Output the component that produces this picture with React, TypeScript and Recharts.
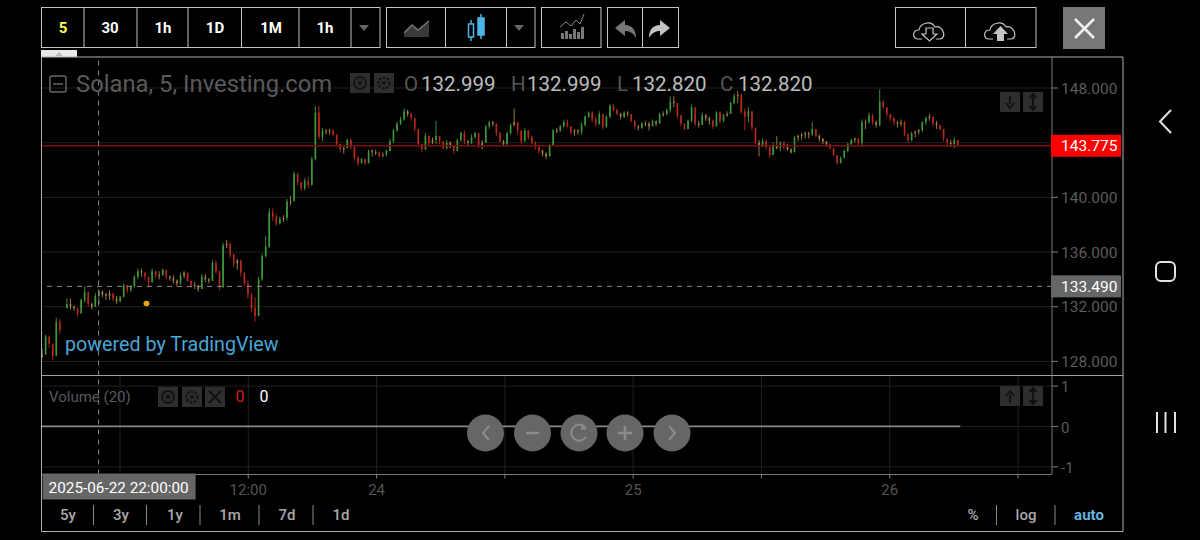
import React from "react";
import { Bar, CartesianGrid, ComposedChart, Line, ReferenceLine, XAxis, YAxis } from "recharts";

const highsA = [128.95,129.95,129.9,129.2,131.2,131.1,null,132.6,132.6,132.1,131.6,132.6,133.5,132.7,132.3,133.0,133.3,133.2,133.0,133.2,132.9,132.8,132.8,133.7,133.6,133.6,134.3,134.8,134.8,134.5,134.2,134.8,134.6,134.6,134.8,134.7,134.3,134.3,134.0,134.5,134.6,134.5,133.9,133.8,133.6,134.4,134.4,134.1,135.4,135.4,134.6,136.7,136.9,136.7,135.9,135.5,135.4,134.5,133.9,133.0,132.7,134.2,135.9,137.2,139.2,139.2,138.8,138.6,138.7,139.9,140.1,141.9,141.8,141.1,141.4,141.5,143.0,146.7,146.7];
const lowsA = [128.3,128.6,129.0,128.1,128.6,130.0,null,131.9,131.8,131.7,131.3,131.9,132.3,132.0,131.8,132.0,132.2,132.7,132.5,132.5,132.4,132.2,132.3,132.8,133.0,133.1,133.4,134.0,134.2,133.9,133.4,133.8,134.1,134.0,134.3,134.0,133.9,133.7,133.5,133.6,134.1,133.8,133.4,133.3,133.1,133.3,133.8,133.7,133.9,134.4,133.2,133.9,136.3,135.6,134.9,134.7,134.2,133.5,132.6,131.6,130.9,131.4,133.9,135.6,136.3,138.3,137.9,138.0,138.2,138.3,139.4,139.8,140.9,140.5,140.5,140.7,140.9,142.7,144.2];
const closesA = [128.5,129.8,129.3,128.4,130.9,130.3,null,132.2,132.0,131.9,131.5,132.5,133.1,132.2,132.0,132.8,133.1,132.9,132.8,133.0,132.6,132.4,132.7,133.6,133.2,133.5,134.2,134.6,134.5,134.2,133.8,134.6,134.3,134.3,134.7,134.2,134.1,133.9,133.7,134.3,134.5,133.9,133.6,133.5,133.3,134.2,134.0,133.9,135.2,134.6,133.4,136.5,136.6,135.8,135.2,135.4,134.5,133.7,132.9,131.9,131.3,134.0,135.7,136.4,138.9,138.6,138.1,138.4,138.5,139.7,139.7,141.7,141.1,140.7,141.2,140.9,142.8,146.2,144.4];

const highsB = [145.1,145.0,145.0,144.95,144.6,143.9,143.7,144.3,144.3,143.7,143.0,142.9,142.8,143.5,143.5,143.5,143.4,143.3,143.5,144.3,145.0,145.5,145.9,146.5,146.4,146.2,145.8,145.0,143.9,144.7,144.5,144.4,145.6,144.5,144.1,144.2,144.1,143.8,144.3,144.8,144.9,144.2,144.6,144.8,144.7,144.2,145.3,145.6,145.6,145.4,144.8,144.2,144.8,145.4,146.5,145.5,144.9,145.1,144.9,144.5,144.1,143.8,143.5,143.3,143.9,145.0,145.1,145.3,145.7,145.7,145.2,145.0,145.0,145.5,146.0,146.3,146.3,145.9,146.3,146.1,146.0,146.8,146.8,146.5,146.2,146.3,146.3,146.1,145.6,145.3,145.5,145.6,145.5];
const lowsB = [144.1,144.6,144.6,144.5,143.7,143.3,143.2,143.6,143.5,142.7,142.3,142.5,142.35,142.5,143.0,143.1,142.9,143.0,143.0,143.4,144.0,144.8,145.3,145.6,145.9,145.6,144.8,143.7,143.3,143.5,143.8,143.9,143.9,143.9,143.5,143.5,143.6,143.2,143.4,144.1,143.9,143.8,143.9,144.3,143.6,143.5,144.0,145.0,145.2,144.5,144.0,143.7,143.8,144.6,145.2,144.6,143.9,144.1,144.2,143.9,143.5,143.2,143.0,142.8,143.0,143.8,144.7,144.8,145.1,145.1,144.6,144.5,144.6,144.6,145.2,145.8,145.5,145.2,145.3,145.0,145.1,145.8,146.3,146.0,145.7,145.8,145.9,145.5,145.0,144.9,145.0,145.2,144.9];
const closesB = [144.9,144.85,144.9,144.6,143.9,143.5,143.6,144.2,143.7,142.9,142.5,142.8,142.5,143.4,143.3,143.3,143.0,143.1,143.4,144.1,144.9,145.4,145.7,146.3,146.1,145.8,145.0,143.9,143.5,144.5,144.0,144.2,144.5,144.1,143.6,144.0,143.8,143.4,144.2,144.7,144.1,144.0,144.4,144.7,143.8,144.0,145.2,145.5,145.4,144.7,144.1,143.9,144.7,145.3,145.5,144.9,144.1,144.9,144.4,144.0,143.7,143.4,143.2,143.0,143.8,144.9,144.9,145.2,145.5,145.2,144.8,144.9,144.8,145.3,145.9,146.2,145.7,145.4,146.1,145.2,145.9,146.7,146.4,146.1,145.9,146.2,146.1,145.6,145.2,145.1,145.4,145.4,145.2];

const highsC = [145.7,145.6,146.2,146.3,146.5,147.4,147.4,146.9,146.0,145.4,145.7,146.8,146.0,145.6,146.2,146.1,145.9,145.7,146.3,146.3,146.1,146.3,147.0,147.6,147.8,147.6,146.5,146.6,146.3,145.1,144.2,144.3,144.2,143.7,144.0,144.5,144.1,144.1,143.9,143.6,144.5,144.6,144.7,144.8,144.8,145.5,145.0,144.6,144.3,144.1,143.9,143.6,143.1,143.0,143.5,144.0,144.3,144.4,144.3,145.7,145.7,146.2,146.1,145.6,147.9,147.1,146.6,146.1,145.9,145.6,145.7,145.6,144.7,144.8,144.9,145.0,145.6,145.9,146.1,145.9,145.6,145.3,145.0,144.3,144.2,144.4,144.2];
const lowsC = [145.2,145.2,145.4,145.9,146.0,146.2,146.6,145.8,145.2,144.9,145.0,145.5,145.2,145.1,145.3,145.6,145.3,145.0,145.2,145.4,145.5,145.9,146.1,146.8,146.9,146.1,144.9,145.5,144.9,143.9,143.0,143.7,143.5,142.9,143.1,143.5,143.4,143.5,143.4,143.2,143.3,144.1,144.2,144.3,144.3,144.5,144.4,144.1,143.9,143.7,143.5,143.0,142.4,142.5,142.9,143.3,143.8,144.0,143.8,143.7,145.0,145.4,145.3,145.1,145.2,146.5,145.9,145.6,145.3,145.1,145.2,144.5,144.0,144.1,144.4,144.6,144.8,145.3,145.6,145.2,145.0,144.9,144.1,143.8,143.7,143.6,143.7];
const closesC = [145.6,145.4,146.1,146.1,146.4,147.0,146.9,146.0,145.4,145.0,145.6,146.6,145.4,145.3,146.0,145.8,145.6,145.2,146.2,145.6,146.0,146.1,146.9,147.4,147.5,146.3,145.9,146.3,145.1,144.0,143.8,144.1,143.7,143.1,143.8,143.6,144.0,143.7,143.5,143.3,144.4,144.5,144.6,144.7,144.6,145.0,144.5,144.3,144.1,143.9,143.6,143.1,142.5,142.9,143.4,143.9,144.2,144.3,144.0,145.5,145.5,146.0,145.5,145.3,147.0,146.6,146.1,145.8,145.5,145.4,145.5,144.6,144.2,144.7,144.8,144.9,145.5,145.8,145.9,145.4,145.3,145.0,144.3,144.0,143.9,144.2,143.8];

const candleHighs = [...highsA, ...highsB, ...highsC];
const candleLows = [...lowsA, ...lowsB, ...lowsC];
const candleCloses = [...closesA, ...closesB, ...closesC];

const firstCandleHour = -7.31;
const candleStepHours = 0.332;
const hourDomain = [-7.39, 87.18];
const gridHours = [0, 12, 24, 36, 48, 60, 72, 84];
const timeTicks = [-2, 12, 24, 36, 48, 60, 72, 84];
const timeLabels: Record<number, string> = { [-2]: "2025-06-22 22:00:00", 12: "12:00", 24: "24", 48: "25", 72: "26" };
const priceGrid = [128, 132, 136, 140, 144, 148];
const priceTicks = [128, 132, 133.49, 136, 140, 143.775, 148];
const lastPrice = 143.775;
const crossPrice = 133.49;
const crossHour = -2;
const volumeTicks = [-1, 0, 1];
const volumeHours = [-7.39, 78.6];
const volumeValues = [0, 0];

const candles = candleCloses.map((close, i) => ({
  hour: firstCandleHour + i * candleStepHours,
  range: close == null ? null : [candleLows[i], candleHighs[i]],
  open: close == null ? null : candleCloses[i - 1] ?? candleLows[i],
  close,
}));
const volumeData = volumeHours.map((hour, i) => ({ hour, volume: volumeValues[i] }));

const FONT = "Roboto, sans-serif";
const UP = "#3f9a3a";
const DOWN = "#b92a1c";
const DOJI = "#a98445";

function CandleShape(props: any) {
  const { x, y, width, height, payload } = props;
  if (!payload || !payload.range) return null;
  const [low, high] = payload.range;
  const ppu = height / (high - low || 1);
  const cx = x + width / 2;
  const top = y + (high - Math.max(payload.open, payload.close)) * ppu;
  const bh = Math.max(1, Math.abs(payload.close - payload.open) * ppu);
  const diff = payload.close - payload.open;
  const color = Math.abs(diff) < 0.25 ? DOJI : diff > 0 ? UP : DOWN;
  return (
    <g>
      <line x1={cx} x2={cx} y1={y} y2={y + height} stroke={color} strokeWidth={0.9} />
      <rect x={cx - 0.8} y={top} width={1.6} height={bh} fill={color} />
    </g>
  );
}

function PriceTick(props: any) {
  const { x, y, payload } = props;
  const v = payload.value;
  const text = v.toFixed(3);
  if (v === lastPrice || v === crossPrice) {
    const bg = v === lastPrice ? "#ff0000" : "#666666";
    return (
      <g>
        <rect x={x - 9} y={y - 11} width={70} height={22} fill={bg} />
        <text x={x + 1} y={y + 5.5} fontFamily={FONT} fontSize={15.5} fill="#ffffff">{text}</text>
      </g>
    );
  }
  return <text x={x + 1} y={y + 5.5} fontFamily={FONT} fontSize={15.5} fill="#5c5c5c">{text}</text>;
}

function TimeTick(props: any) {
  const { x, y, payload } = props;
  const label = timeLabels[payload.value];
  if (payload.value === crossHour) {
    return (
      <g>
        <rect x={x - 56} y={y - 7} width={153} height={26} fill="#666666" />
        <text x={x - 50} y={y + 12.5} fontFamily={FONT} fontSize={15.3} fill="#ffffff">{label}</text>
      </g>
    );
  }
  if (!label) return null;
  return <text x={x} y={y + 14} textAnchor="middle" fontFamily={FONT} fontSize={15} fill="#555555">{label}</text>;
}

const BOX = { fill: "none", stroke: "#c4c4c4", strokeWidth: 1 };

function TBtn({ x, label, color = "#ffffff" }: { x: number; label: string; color?: string }) {
  return <text x={x} y={32.5} textAnchor="middle" fontFamily={FONT} fontWeight={700} fontSize={15} fill={color}>{label}</text>;
}

function GreyBox({ x, y, w = 20, h = 20, children }: any) {
  return (
    <g>
      <rect x={x} y={y} width={w} height={h} fill="#2e2e2e" />
      {children}
    </g>
  );
}

function Gear({ cx, cy }: { cx: number; cy: number }) {
  return (
    <g>
      <circle cx={cx} cy={cy} r={5.5} fill="none" stroke="#141414" strokeWidth={2.5} strokeDasharray="2.5 1.5" />
      <circle cx={cx} cy={cy} r={2} fill="#141414" />
    </g>
  );
}

function Eye({ cx, cy }: { cx: number; cy: number }) {
  return (
    <g>
      <circle cx={cx} cy={cy} r={6} fill="none" stroke="#141414" strokeWidth={2} />
      <circle cx={cx} cy={cy} r={2.2} fill="#141414" />
    </g>
  );
}

function Overlay() {
  const circles = [485.5, 532.5, 579, 625, 672];
  return (
    <svg width={1200} height={540} style={{ position: "absolute", left: 0, top: 0, pointerEvents: "none" }}>
      {/* toolbars */}
      <rect x={41.5} y={7.5} width={338.5} height={40} {...BOX} />
      {[84, 137, 188, 241.5, 299, 351].map((x) => <line key={x} x1={x} x2={x} y1={7} y2={48} stroke="#c4c4c4" />)}
      <TBtn x={63} label="5" color="#ffff4d" />
      <TBtn x={110} label="30" />
      <TBtn x={163} label="1h" />
      <TBtn x={215} label="1D" />
      <TBtn x={271} label="1M" />
      <TBtn x={325} label="1h" />
      <path d="M359 25 L369 25 L364 31 Z" fill="#666" />
      <rect x={386.5} y={7.5} width={148.5} height={40} {...BOX} />
      <line x1={445.5} x2={445.5} y1={7} y2={48} stroke="#c4c4c4" />
      <line x1={506.5} x2={506.5} y1={7} y2={48} stroke="#c4c4c4" />
      <path d="M404 37 L404 33 L412 25 L418 30 L429 21 L429 37 Z" fill="#3a3a3a" />
      <path d="M404 33 L412 25 L418 30 L429 21" fill="none" stroke="#777" strokeWidth={1.5} />
      <g stroke="#4fb4e6" strokeWidth={1.5} fill="none">
        <line x1={471} x2={471} y1={20} y2={41} />
        <rect x={468.5} y={24} width={5} height={13} fill="#000" />
        <line x1={481} x2={481} y1={14} y2={39} />
        <rect x={478} y={18} width={6} height={17} fill="#4fb4e6" />
      </g>
      <path d="M514 25 L524 25 L519 31 Z" fill="#666" />
      <rect x={541.5} y={7.5} width={59.5} height={40} {...BOX} />
      <g fill="#777">
        {[561, 565, 569, 573, 577, 581].map((x, i) => <rect key={x} x={x} y={[33, 31, 34, 29, 32, 27][i]} width={3} height={[6, 8, 5, 10, 7, 12][i]} />)}
      </g>
      <path d="M560 27 L566 22 L571 26 L576 20 L580 24 L584 14" fill="none" stroke="#888" strokeWidth={1} />
      <rect x={607.5} y={7.5} width={71} height={40} {...BOX} />
      <line x1={642.5} x2={642.5} y1={7} y2={48} stroke="#c4c4c4" />
      <path d="M615 28 L625 20 L625 25 C632 25 636 30 636 38 C633 33 630 31 625 31 L625 36 Z" fill="#777" />
      <path d="M670 28 L660 20 L660 25 C653 25 649 30 649 38 C652 33 655 31 660 31 L660 36 Z" fill="#c4c4c4" />
      <rect x={41} y={50} width={36} height={7} fill="#e8e8e8" />
      <path d="M55 56 L59 52 L63 56 Z" fill="#bbb" />
      <rect x={895.5} y={7.5} width={140.5} height={40} {...BOX} />
      <line x1={965.5} x2={965.5} y1={7} y2={48} stroke="#c4c4c4" />
      <path d="M922 39 L918 39 C912 39 912 30 919 30 C920 23 931 20 935 27 C942 24 948 38 940 39 L936 39" fill="none" stroke="#c4c4c4" strokeWidth={1.2} />
      <path d="M926 28 L933 28 L933 34 L937 34 L929.5 41 L922 34 L926 34 Z" fill="#000" stroke="#c4c4c4" strokeWidth={1.2} />
      <path d="M993 39 L989 39 C983 39 983 30 990 30 C991 23 1002 20 1006 27 C1013 24 1019 38 1011 39 L1007 39" fill="none" stroke="#c4c4c4" strokeWidth={1.2} />
      <path d="M997 41 L997 34 L993 34 L1000.5 26 L1008 34 L1004 34 L1004 41 Z" fill="#c4c4c4" />
      <rect x={1063} y={7} width={42} height={42} fill="#777777" />
      <path d="M1075 19 L1094 38 M1094 19 L1075 38" stroke="#f0f0f0" strokeWidth={2.5} />

      {/* frame */}
      <path d="M41.5 57 L1123 57 L1123 531.5 L41.5 531.5 Z" fill="none" stroke="#b0b0b0" strokeWidth={1} />
      <line x1={41} x2={1123} y1={375.5} y2={375.5} stroke="#a0a0a0" strokeWidth={1.2} />

      {/* header */}
      <rect x={50} y={76} width={16} height={16} rx={2} fill="none" stroke="#666" strokeWidth={1.5} />
      <line x1={53} x2={63} y1={84} y2={84} stroke="#666" strokeWidth={1.5} />
      <text x={76} y={92} fontFamily={FONT} fontSize={23.8} fill="#5a5a5a">Solana, 5, Investing.com</text>
      <GreyBox x={350} y={73}><Eye cx={360} cy={83} /></GreyBox>
      <GreyBox x={374} y={73}><Gear cx={384} cy={83} /></GreyBox>
      {[["O", 404, "132.999", 421], ["H", 511, "132.999", 527], ["L", 617, "132.820", 632], ["C", 720, "132.820", 738]].map(([a, ax, b, bx]: any) => (
        <g key={a}>
          <text x={ax} y={91} fontFamily={FONT} fontSize={20.5} fill="#555">{a}</text>
          <text x={bx} y={91} fontFamily={FONT} fontSize={20.5} fill="#bdbdbd">{b}</text>
        </g>
      ))}
      <text x={65} y={351} fontFamily={FONT} fontSize={19.7} fill="#49a6d6">powered by TradingView</text>
      <ellipse cx={146.5} cy={303.5} rx={3} ry={2.8} fill="#f0a800" />
      <GreyBox x={1000} y={92}><path d="M1010 96 L1010 104 M1006 103 L1010 108 L1014 103" stroke="#111" strokeWidth={2} fill="none" /></GreyBox>
      <GreyBox x={1023} y={92}><path d="M1033 95 L1033 109 M1029.5 98 L1033 94 L1036.5 98 M1029.5 106 L1033 110 L1036.5 106" stroke="#111" strokeWidth={2} fill="none" /></GreyBox>

      {/* volume header */}
      <text x={49} y={402} fontFamily={FONT} fontSize={15} fill="#5a5a5a">Volume (20)</text>
      <GreyBox x={158} y={387}><Eye cx={168} cy={397} /></GreyBox>
      <GreyBox x={182} y={387}><Gear cx={192} cy={397} /></GreyBox>
      <GreyBox x={205} y={387}><path d="M209 391 L221 403 M221 391 L209 403" stroke="#111" strokeWidth={2} /></GreyBox>
      <text x={240} y={402} textAnchor="middle" fontFamily={FONT} fontSize={16} fill="#d81e1e">0</text>
      <text x={264} y={402} textAnchor="middle" fontFamily={FONT} fontSize={16} fill="#ffffff">0</text>
      <GreyBox x={1000} y={386}><path d="M1010 403 L1010 395 M1006 396 L1010 391 L1014 396" stroke="#111" strokeWidth={2} fill="none" /></GreyBox>
      <GreyBox x={1023} y={386}><path d="M1033 389 L1033 403 M1029.5 392 L1033 388 L1036.5 392 M1029.5 400 L1033 404 L1036.5 400" stroke="#111" strokeWidth={2} fill="none" /></GreyBox>

      {/* nav circles */}
      {circles.map((cx) => <circle key={cx} cx={cx} cy={433} r={18.5} fill="#666666" />)}
      <path d="M489 426 L483 433 L489 440" fill="none" stroke="#8c8c8c" strokeWidth={2} />
      <line x1={526} x2={539} y1={433} y2={433} stroke="#8c8c8c" strokeWidth={2.5} />
      <path d="M585 427 A8 8 0 1 0 586 437" fill="none" stroke="#8c8c8c" strokeWidth={2} />
      <path d="M582 424 L587 429 L581 430 Z" fill="#8c8c8c" />
      <path d="M618 433 L632 433 M625 426 L625 440" stroke="#8c8c8c" strokeWidth={2.5} />
      <path d="M669 426 L675 433 L669 440" fill="none" stroke="#8c8c8c" strokeWidth={2} />

      {/* range buttons */}
      {[["5y", 68], ["3y", 121], ["1y", 175], ["1m", 230], ["7d", 287], ["1d", 341]].map(([t, x]: any) => (
        <text key={t} x={x} y={520} textAnchor="middle" fontFamily={FONT} fontWeight={500} fontSize={15} fill="#a8a8a8">{t}</text>
      ))}
      {[93.5, 146.5, 200, 259, 313, 996.5, 1055].map((x) => <line key={x} x1={x} x2={x} y1={505} y2={525} stroke="#8a8a8a" />)}
      <text x={973} y={520} textAnchor="middle" fontFamily={FONT} fontWeight={500} fontSize={15} fill="#a8a8a8">%</text>
      <text x={1026} y={520} textAnchor="middle" fontFamily={FONT} fontWeight={500} fontSize={15} fill="#a8a8a8">log</text>
      <text x={1089} y={520} textAnchor="middle" fontFamily={FONT} fontWeight={700} fontSize={15} fill="#64b4de">auto</text>

      {/* phone navigation */}
      <path d="M1171 110 L1160 121.5 L1171 133" fill="none" stroke="#e2e2e2" strokeWidth={2} />
      <rect x={1156} y={262} width={19} height={19} rx={5} fill="none" stroke="#e2e2e2" strokeWidth={2} />
      {[1157, 1165.5, 1175].map((x) => <line key={x} x1={x} x2={x} y1={412} y2={433} stroke="#e2e2e2" strokeWidth={2} />)}
    </svg>
  );
}

export default function App() {
  return (
    <div style={{ position: "absolute", left: 0, top: 0, width: 1200, height: 540, background: "#000", overflow: "hidden" }}>
      <style>{`.recharts-bar { filter: blur(0.3px); }`}</style>
      <div style={{ position: "absolute", left: 41, top: 57 }}>
        <ComposedChart width={1082} height={318.5} data={candles} margin={{ top: 0, right: 0, bottom: 0, left: 0 }}>
          <CartesianGrid stroke="#202020" horizontalValues={priceGrid} verticalValues={gridHours} />
          <XAxis type="number" dataKey="hour" domain={hourDomain} allowDataOverflow ticks={gridHours} tick={false} axisLine={false} tickLine={false} height={0} />
          <YAxis orientation="right" width={71} domain={[126.97, 150.27]} allowDataOverflow ticks={priceTicks} interval={0} tick={<PriceTick />} tickSize={6} tickMargin={2} stroke="#7a7a7a" />
          <ReferenceLine y={lastPrice} stroke="#7d0f0f" strokeWidth={1.5} />
          <ReferenceLine y={crossPrice} stroke="#8a8a8a" strokeDasharray="5 5" />
          <ReferenceLine x={crossHour} stroke="#8a8a8a" strokeDasharray="5 5" />
          <Bar dataKey="range" barSize={2} shape={<CandleShape />} isAnimationActive={false} />
        </ComposedChart>
      </div>
      <div style={{ position: "absolute", left: 41, top: 376 }}>
        <ComposedChart width={1082} height={130} data={volumeData} margin={{ top: 0, right: 0, bottom: 0, left: 0 }}>
          <CartesianGrid stroke="#202020" horizontalValues={volumeTicks} verticalValues={gridHours} />
          <XAxis type="number" dataKey="hour" domain={hourDomain} allowDataOverflow ticks={timeTicks} interval={0} height={31.5} tick={<TimeTick />} tickSize={4} stroke="#7a7a7a" />
          <YAxis orientation="right" width={71} domain={[-1.19, 1.25]} allowDataOverflow ticks={volumeTicks} interval={0} tickSize={6} tickMargin={3} tick={{ fill: "#5c5c5c", fontFamily: FONT, fontSize: 15, dy: 1 }} stroke="#7a7a7a" />
          <ReferenceLine x={crossHour} stroke="#8a8a8a" strokeDasharray="5 5" />
          <Line dataKey="volume" stroke="#888888" strokeWidth={1.7} dot={false} isAnimationActive={false} />
        </ComposedChart>
      </div>
      <Overlay />
    </div>
  );
}
